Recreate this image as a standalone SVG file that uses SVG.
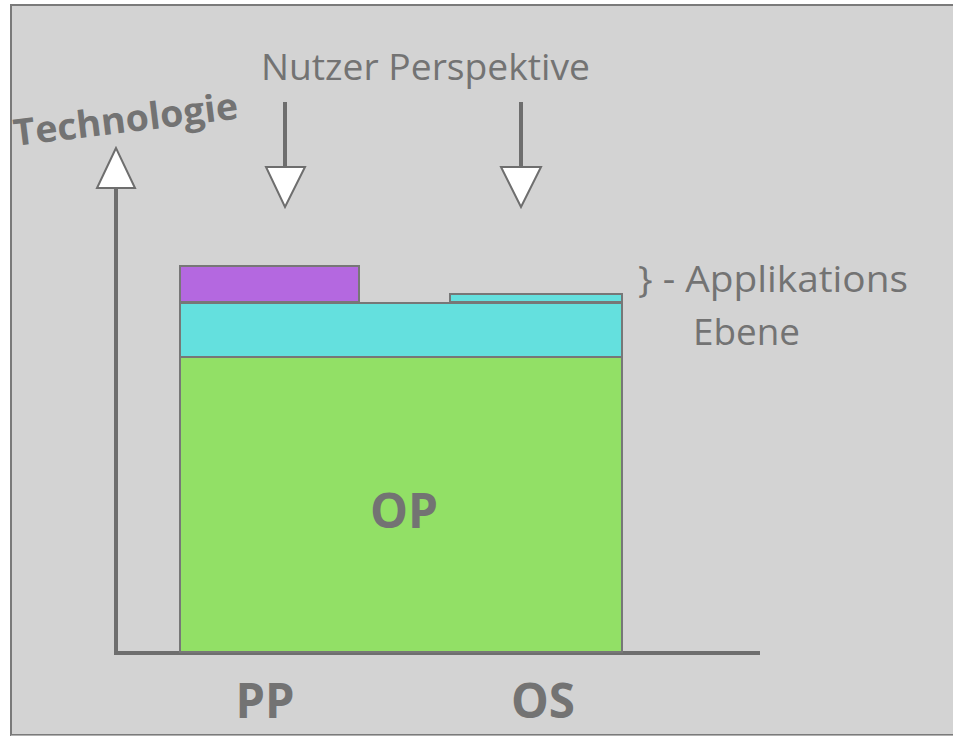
<svg xmlns="http://www.w3.org/2000/svg" width="953" height="737" viewBox="0 0 953 737">
<style>
.lbl{font-family:"Open Sans","Noto Sans","Liberation Sans",sans-serif;fill:#737373}
.b{font-weight:bold}
.ax{stroke:#6e6e6e;stroke-width:4;fill:none}
.ah{fill:#ffffff;stroke:#6e6e6e;stroke-width:2;stroke-linejoin:miter}
.blk{stroke:#777777;stroke-width:2}
</style>
<rect x="0" y="0" width="953" height="737" fill="#ffffff"/>
<rect x="11" y="5" width="950" height="730" fill="#d3d3d3" stroke="#7a7a7a" stroke-width="2"/>
<line x1="11" y1="735.5" x2="953" y2="735.5" stroke="#b0b0b0" stroke-width="1"/>
<g id="connectors">
<polyline class="ax" points="116,188 116,653 760,653"/>
<polygon class="ah" points="116,148 97,188 135,188"/>
<line class="ax" x1="285" y1="102" x2="285" y2="167"/>
<polygon class="ah" points="266,167 305,167 285,207"/>
<line class="ax" x1="521" y1="102" x2="521" y2="167"/>
<polygon class="ah" points="501,167 541,167 521,207"/>
</g>
<g id="op">
<rect class="blk" x="180" y="357" width="442" height="295" fill="#92e066"/>
<text class="lbl b" x="404" y="528" font-size="48" text-anchor="middle" textLength="68" lengthAdjust="spacingAndGlyphs">OP</text>
</g>
<g id="os-layer">
<rect class="blk" x="180" y="303" width="442" height="54" fill="#64e0de"/>
</g>
<g id="pp-app">
<rect class="blk" x="180" y="266" width="179" height="36" fill="#b468e0"/>
</g>
<g id="os-app">
<rect class="blk" x="450" y="294" width="172" height="8" fill="#64e0de"/>
</g>
<g id="labels">
<text class="lbl" x="261" y="80" font-size="37" textLength="329" lengthAdjust="spacingAndGlyphs">Nutzer Perspektive</text>
<text class="lbl b" x="15" y="146" font-size="37" transform="rotate(-7 15 146)" textLength="226" lengthAdjust="spacingAndGlyphs">Technologie</text>
<text class="lbl" x="638" y="292" font-size="37" textLength="270" lengthAdjust="spacingAndGlyphs">} - Applikations</text>
<text class="lbl" x="693" y="345" font-size="37" textLength="107" lengthAdjust="spacingAndGlyphs">Ebene</text>
<text class="lbl b" x="265" y="718" font-size="48" text-anchor="middle" textLength="59" lengthAdjust="spacingAndGlyphs">PP</text>
<text class="lbl b" x="543" y="718" font-size="48" text-anchor="middle" textLength="64" lengthAdjust="spacingAndGlyphs">OS</text>
</g>
</svg>
